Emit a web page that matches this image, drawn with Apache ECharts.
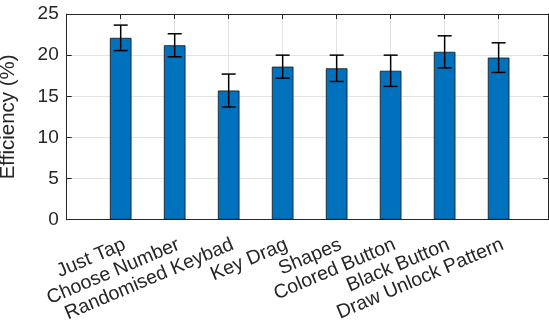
<!DOCTYPE html>
<html>
<head>
<meta charset="utf-8">
<script src="https://cdn.jsdelivr.net/npm/echarts@6/dist/echarts.min.js"></script>
<style>
  html, body { margin: 0; padding: 0; background: #fff; }
  #chart { width: 549px; height: 325px; }
</style>
</head>
<body>
<div id="chart"></div>
<script>
// Unlock methods and their measured efficiency
const categories = ['Just Tap', 'Choose Number', 'Randomised Keybad', 'Key Drag',
  'Shapes', 'Colored Button', 'Black Button', 'Draw Unlock Pattern'];
const efficiency = [22.1, 21.2, 15.7, 18.6, 18.4, 18.1, 20.4, 19.7];
const errorHalf = [1.55, 1.4, 2.0, 1.4, 1.6, 1.9, 1.95, 1.8];
const yTicks = [0, 5, 10, 15, 20, 25];

const axisColor = '#262626';
const gridColor = '#e3e3e3';
const font = 'Liberation Sans, Arial, Helvetica, sans-serif';

const positions = categories.map((_, i) => i + 1);
const barData = positions.map((x, i) => [x, efficiency[i]]);
const errData = positions.map((x, i) => [x, efficiency[i] - errorHalf[i], efficiency[i] + errorHalf[i]]);

const chart = echarts.init(document.getElementById('chart'), null, { renderer: 'canvas' });

const lineStyle = { color: axisColor, width: 1 };
const tickStyle = { show: true, inside: true, length: 5, lineStyle: { color: axisColor } };

const yCommon = {
  type: 'value',
  min: yTicks[0],
  max: yTicks[yTicks.length - 1],
  interval: yTicks[1] - yTicks[0],
  axisLine: { show: true, onZero: false, lineStyle },
  axisTick: tickStyle
};
const xCommon = {
  type: 'value', min: 0, max: 8.92, interval: 1,
  axisLine: { show: true, onZero: false, lineStyle },
  axisTick: tickStyle
};

chart.setOption({
  animation: false,
  grid: { left: 66.7, top: 14, right: 0.7, bottom: 105.3, containLabel: false, outerBoundsMode: 'none' },
  xAxis: [
    Object.assign({}, xCommon, {
      position: 'bottom',
      axisLabel: {
        show: true, rotate: 23, margin: 15,
        align: 'right', verticalAlign: 'top',
        fontSize: 19.5, fontFamily: font, color: axisColor,
        formatter: v => (Number.isInteger(v) && v >= 1 && v <= categories.length) ? categories[v - 1] : ''
      },
      splitLine: { show: true, lineStyle: { color: gridColor, width: 1 } }
    }),
    Object.assign({}, xCommon, {
      position: 'top',
      axisLabel: { show: false },
      splitLine: { show: false }
    })
  ],
  yAxis: [
    Object.assign({}, yCommon, {
      position: 'left',
      name: 'Efficiency (%)', nameLocation: 'middle', nameGap: 48,
      nameTextStyle: { fontSize: 20.5, fontFamily: font, color: axisColor },
      axisLabel: { fontSize: 19, fontFamily: font, color: axisColor, margin: 8 },
      splitLine: { show: true, lineStyle: { color: gridColor, width: 1 } }
    }),
    Object.assign({}, yCommon, {
      position: 'right',
      axisLabel: { show: false },
      splitLine: { show: false }
    })
  ],
  series: [
    {
      type: 'bar', xAxisIndex: 0, yAxisIndex: 0,
      data: barData, barWidth: 21.6,
      itemStyle: { color: '#0072BD', borderColor: '#111', borderWidth: 0.8 },
      z: 3
    },
    {
      type: 'custom', xAxisIndex: 0, yAxisIndex: 0,
      data: errData, z: 4,
      renderItem: (params, api) => {
        const x = api.value(0);
        const lo = api.coord([x, api.value(1)]);
        const hi = api.coord([x, api.value(2)]);
        const cap = 7;
        const style = { stroke: '#000', lineWidth: 1.5 };
        return {
          type: 'group',
          children: [
            { type: 'line', shape: { x1: lo[0], y1: lo[1], x2: hi[0], y2: hi[1] }, style },
            { type: 'line', shape: { x1: lo[0] - cap, y1: lo[1], x2: lo[0] + cap, y2: lo[1] }, style },
            { type: 'line', shape: { x1: hi[0] - cap, y1: hi[1], x2: hi[0] + cap, y2: hi[1] }, style }
          ]
        };
      }
    }
  ]
});
</script>
</body>
</html>
